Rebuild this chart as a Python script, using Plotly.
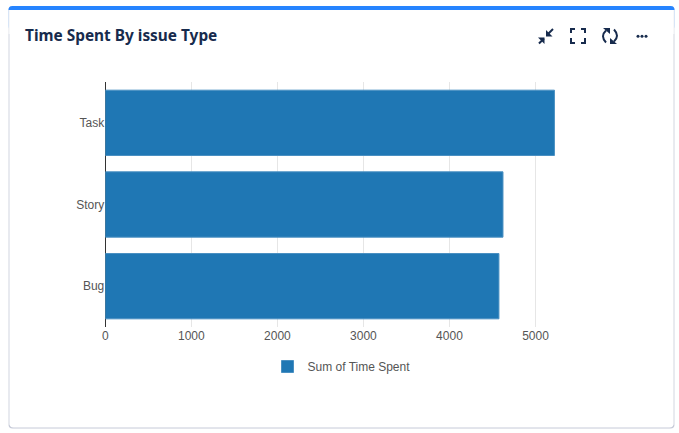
import plotly.graph_objects as go

categories = ["Bug", "Story", "Task"]
time_spent = [4575, 4622, 5220]
series_name = "Sum of Time Spent"
title_text = "Time Spent By issue Type"
x_ticks = [0, 1000, 2000, 3000, 4000, 5000]

W, H = 679, 433
X0, X1, Y0, Y1 = 105.3, 590.0, 82.0, 327.0
PER_1000 = 86.04


def px(x):
    return x / W


def py(y):
    return 1 - y / H


def poly(points, close=False):
    s = "M" + " L".join(f"{px(a):.5f},{py(b):.5f}" for a, b in points)
    return s + (" Z" if close else "")


def line_shape(points, color="#172b4d", width=2):
    return dict(type="path", xref="paper", yref="paper", path=poly(points),
                line=dict(color=color, width=width), layer="above")


def fill_shape(points, color="#172b4d"):
    return dict(type="path", xref="paper", yref="paper", path=poly(points, True),
                fillcolor=color, line=dict(width=0), layer="above")


def arc_shape(start, ctrl, end, color="#172b4d", width=2):
    p = (f"M{px(start[0]):.5f},{py(start[1]):.5f} "
         f"Q{px(ctrl[0]):.5f},{py(ctrl[1]):.5f} {px(end[0]):.5f},{py(end[1]):.5f}")
    return dict(type="path", xref="paper", yref="paper", path=p,
                line=dict(color=color, width=width), layer="above")


def rounded(x0, y0, x1, y1, r):
    return (f"M{px(x0+r):.5f},{py(y0):.5f} L{px(x1-r):.5f},{py(y0):.5f} "
            f"Q{px(x1):.5f},{py(y0):.5f} {px(x1):.5f},{py(y0+r):.5f} "
            f"L{px(x1):.5f},{py(y1-r):.5f} Q{px(x1):.5f},{py(y1):.5f} {px(x1-r):.5f},{py(y1):.5f} "
            f"L{px(x0+r):.5f},{py(y1):.5f} Q{px(x0):.5f},{py(y1):.5f} {px(x0):.5f},{py(y1-r):.5f} "
            f"L{px(x0):.5f},{py(y0+r):.5f} Q{px(x0):.5f},{py(y0):.5f} {px(x0+r):.5f},{py(y0):.5f} Z")


shapes = [
    dict(type="path", xref="paper", yref="paper", layer="below",
         path=rounded(8.5, 6, 674.5, 428.5, 4), fillcolor="#c6cad8", line=dict(width=0)),
    dict(type="path", xref="paper", yref="paper", layer="below",
         path=rounded(9.5, 6, 673.5, 427.5, 4), fillcolor="#ffffff", line=dict(width=0)),
    dict(type="path", xref="paper", yref="paper", layer="below",
         path=rounded(8.5, 6, 674.5, 30, 4), fillcolor="#2684ff", line=dict(width=0)),
    dict(type="rect", xref="paper", yref="paper", layer="below",
         x0=px(8.5), x1=px(674.5), y0=py(10), y1=py(34), fillcolor="#ffffff", line=dict(width=0)),
    dict(type="line", xref="paper", yref="paper", layer="below",
         x0=px(9), x1=px(9), y0=py(10), y1=py(425), line=dict(color="#eef0f3", width=1)),
    dict(type="line", xref="paper", yref="paper", layer="below",
         x0=px(674), x1=px(674), y0=py(10), y1=py(425), line=dict(color="#eef0f3", width=1)),
    # compress icon
    line_shape([(553, 29), (547, 35)]),
    fill_shape([(546, 30), (546, 36.5), (552.5, 36.5)]),
    line_shape([(539, 43.5), (544, 38.5)]),
    fill_shape([(538, 37.5), (544.5, 37.5), (544.5, 44)]),
    # fullscreen icon
    line_shape([(571, 33), (571, 29), (575, 29)]),
    line_shape([(581, 29), (585, 29), (585, 33)]),
    line_shape([(585, 38), (585, 43), (581, 43)]),
    line_shape([(575, 43), (571, 43), (571, 38)]),
    # refresh icon
    arc_shape((606, 30.5), (600, 36), (606, 42.5)),
    fill_shape([(603, 28), (610, 28), (610, 34)]),
    arc_shape((614, 29.5), (620, 36), (614, 41.5)),
    fill_shape([(617, 44), (610, 44), (610, 38)]),
    # dots icon
    *[dict(type="circle", xref="paper", yref="paper", layer="above",
           x0=px(c - 1.5), x1=px(c + 1.5), y0=py(34.8), y1=py(37.8),
           fillcolor="#172b4d", line=dict(width=0)) for c in (638, 642, 646)],
]

fig = go.Figure(
    go.Bar(
        y=categories,
        x=time_spent,
        name=series_name,
        orientation="h",
        width=0.8,
        marker=dict(color="#1f77b4", line=dict(color="#4a90c2", width=1)),
        showlegend=True,
    )
)

fig.update_layout(
    width=W,
    height=H,
    margin=dict(l=0, r=0, t=0, b=0, autoexpand=False),
    paper_bgcolor="#ffffff",
    plot_bgcolor="rgba(0,0,0,0)",
    font=dict(family="Liberation Sans", size=12, color="#555555"),
    bargap=0.2,
    shapes=shapes,
    annotations=[
        dict(text=f"<b>{title_text}</b>", xref="paper", yref="paper",
             x=px(23), y=py(36), xanchor="left", yanchor="middle", showarrow=False,
             font=dict(family="Noto Sans", size=15.4, color="#172b4d")),
    ],
    xaxis=dict(
        domain=[px(X0), px(X1)],
        range=[0, (X1 - X0) / PER_1000 * 1000],
        tickvals=x_ticks,
        showgrid=True,
        gridcolor="#e6e6e6",
        gridwidth=1,
        zeroline=True,
        zerolinecolor="#333333",
        zerolinewidth=1,
        showline=False,
        ticks="",
        anchor="y",
    ),
    yaxis=dict(
        domain=[py(Y1), py(Y0)],
        showline=False,
        showgrid=False,
        ticks="",
        ticklabelstandoff=0,
        anchor="x",
    ),
    legend=dict(
        orientation="h",
        x=px(267.5),
        y=py(352),
        xanchor="left",
        yanchor="top",
        bgcolor="rgba(0,0,0,0)",
        font=dict(family="Liberation Sans", size=12, color="#555555"),
    ),
    hovermode="closest",
)

fig.write_html(
    "out.html",
    config=dict(displayModeBar=False),
    post_script="document.body.style.margin='0';document.documentElement.style.overflow='hidden';",
)
